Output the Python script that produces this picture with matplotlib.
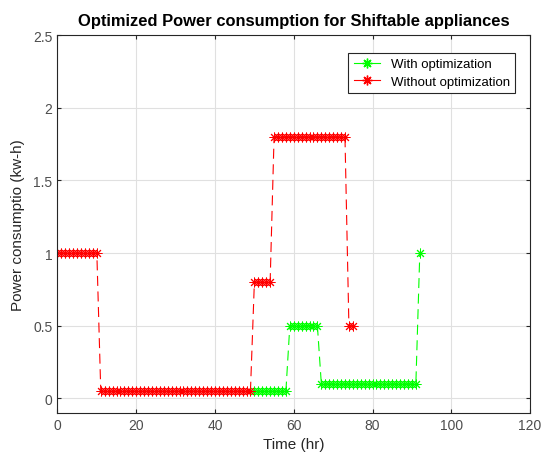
import matplotlib
matplotlib.use("Agg")
import matplotlib.pyplot as plt
from matplotlib.lines import Line2D

# hourly power values
hours_without = list(range(0, 76))
power_without = [1.0] * 11 + [0.05] * 39 + [0.8] * 5 + [1.8] * 19 + [0.5] * 2

hours_with = list(range(50, 93))
power_with = [0.05] * 9 + [0.5] * 8 + [0.1] * 25 + [1.0]

plt.rcParams['font.family'] = ['Liberation Sans', 'DejaVu Sans']

fig = plt.figure(figsize=(5.42, 4.60), dpi=100)
ax = fig.add_axes([0.106, 0.1, 0.872, 0.8217])

star = (8, 2, 0)
green = (0, 1, 0)
red = (1, 0, 0)
ax.plot(hours_with, power_with, color=green, marker=star, markersize=7,
        linewidth=0.8, markeredgewidth=0.7, dashes=(9, 5))
ax.plot(hours_without, power_without, color=red, marker=star, markersize=7,
        linewidth=0.8, markeredgewidth=0.7, dashes=(9, 5))

ax.set_xlim(0, 120)
ax.set_ylim(-0.1, 2.5)
ax.set_xticks([0, 20, 40, 60, 80, 100, 120])
ax.set_yticks([0, 0.5, 1, 1.5, 2, 2.5])
ax.set_yticklabels(['0', '0.5', '1', '1.5', '2', '2.5'])
ax.grid(True, color=(0.88, 0.88, 0.88), linewidth=0.8)
ax.set_axisbelow(True)
ax.tick_params(direction='in', length=3, labelsize=10, colors=(0.15, 0.15, 0.15),
               labelcolor=(0.3, 0.3, 0.3), top=True, right=True)
for sp in ax.spines.values():
    sp.set_color((0.15, 0.15, 0.15))
    sp.set_linewidth(0.8)

ax.set_title('Optimized Power consumption for Shiftable appliances',
             fontsize=11.9, fontweight='bold', pad=7)
ax.set_xlabel('Time (hr)', fontsize=11, color=(0.15, 0.15, 0.15), labelpad=4)
ax.set_ylabel('Power consumptio (kw-h)', fontsize=11, color=(0.15, 0.15, 0.15), labelpad=6)

handles = [Line2D([], [], color=green, marker=star, markersize=7, linewidth=0.8),
           Line2D([], [], color=red, marker=star, markersize=7, linewidth=0.8)]
leg = ax.legend(handles, ['With optimization', 'Without optimization'],
                loc='upper right', fontsize=9.5, fancybox=False, framealpha=1,
                edgecolor=(0.15, 0.15, 0.15), borderpad=0.4, handlelength=2.0,
                labelspacing=0.4, bbox_to_anchor=(0.982, 0.97))
leg.get_frame().set_linewidth(0.8)

fig.savefig('out.png', dpi=100)
